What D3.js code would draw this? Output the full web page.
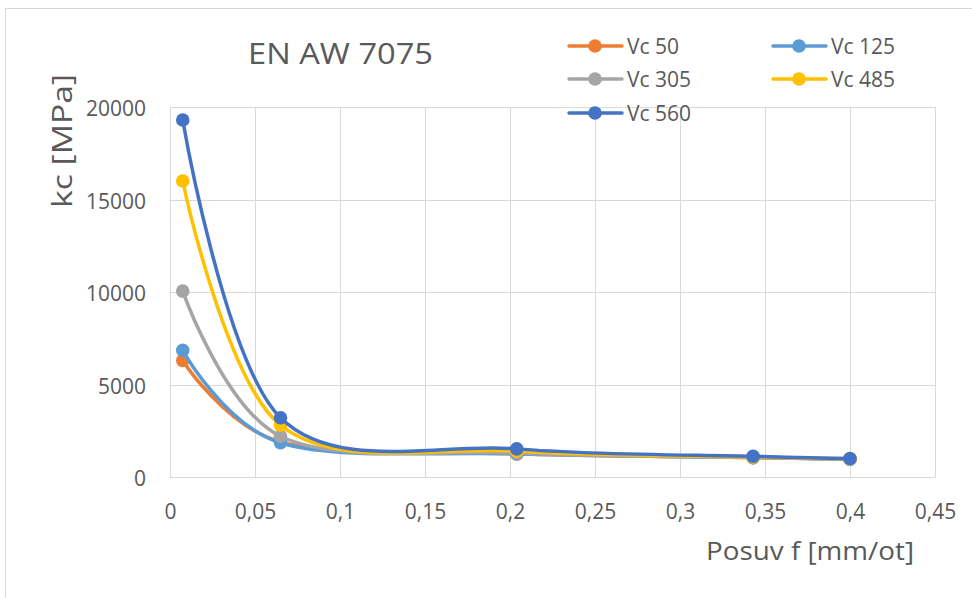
<!DOCTYPE html>
<html><head><meta charset="utf-8">
<script src="https://cdn.jsdelivr.net/npm/d3@7"></script>
<style>
html,body{margin:0;padding:0;background:#fff;}
svg{display:block;font-family:"Open Sans","Noto Sans",sans-serif;}
</style></head>
<body>
<svg id="c" width="972" height="598"></svg>
<script>
const feed = [0.0075, 0.065, 0.204, 0.343, 0.4];
const seriesNames = ["Vc 50", "Vc 125", "Vc 305", "Vc 485", "Vc 560"];
const vc50  = [6300, 1900, 1250, 1050, 960];
const vc125 = [6850, 1850, 1250, 1050, 960];
const vc305 = [10050, 2200, 1300, 1060, 970];
const vc485 = [16000, 2800, 1400, 1080, 990];
const vc560 = [19300, 3200, 1520, 1120, 1000];
const colors = ["#ED7D31", "#5B9BD5", "#A5A5A5", "#FFC000", "#4472C4"];
const xTicks = [0, 0.05, 0.1, 0.15, 0.2, 0.25, 0.3, 0.35, 0.4, 0.45];
const yTicks = [0, 5000, 10000, 15000, 20000];
const title = "EN AW 7075";
const xTitle = "Posuv f [mm/ot]";
const yTitle = "kc [MPa]";

const allSeries = [vc50, vc125, vc305, vc485, vc560];
const svg = d3.select("#c");
const txt = "#595959", grid = "#d9d9d9";

// chart border
svg.append("rect").attr("x", 5.5).attr("y", 8.5).attr("width", 1000).attr("height", 700)
  .attr("fill", "none").attr("stroke", grid).attr("stroke-width", 1);

const x = d3.scaleLinear().domain([0, 0.45]).range([170, 935]);
const y = d3.scaleLinear().domain([0, 20000]).range([477, 107]);

const fmt = d => String(d).replace(".", ",");

// gridlines
svg.append("g").selectAll("line").data(yTicks).join("line")
  .attr("x1", x(0)).attr("x2", x(0.45))
  .attr("y1", d => Math.round(y(d)) + 0.5).attr("y2", d => Math.round(y(d)) + 0.5)
  .attr("stroke", grid).attr("stroke-width", 1);
svg.append("g").selectAll("line").data(xTicks).join("line")
  .attr("y1", y(0)).attr("y2", y(20000))
  .attr("x1", d => Math.round(x(d)) + 0.5).attr("x2", d => Math.round(x(d)) + 0.5)
  .attr("stroke", grid).attr("stroke-width", 1);

// axes (labels only, via d3 axes)
const ax = svg.append("g").attr("transform", `translate(0,${y(0)})`)
  .call(d3.axisBottom(x).tickValues(xTicks).tickFormat(fmt).tickSize(0).tickPadding(27));
ax.select(".domain").attr("stroke", grid);
ax.selectAll("text").attr("fill", txt).style("font-size", "21px").style("font-family", "'Open Sans'");

const ay = svg.append("g").attr("transform", `translate(${x(0)},0)`)
  .call(d3.axisLeft(y).tickValues(yTicks).tickFormat(d => String(d)).tickSize(0).tickPadding(24));
ay.select(".domain").attr("stroke", grid);
ay.selectAll("text").attr("fill", txt).attr("dy", "0.42em").style("font-size", "21px").style("font-family", "'Open Sans'");

// lines
const line = d3.line().x(d => x(d[0])).y(d => y(d[1])).curve(d3.curveCatmullRom.alpha(0));
allSeries.forEach((s, i) => {
  const pts = feed.map((f, j) => [f, s[j]]);
  svg.append("path").datum(pts).attr("d", line)
    .attr("fill", "none").attr("stroke", colors[i]).attr("stroke-width", 3.5)
    .attr("stroke-linecap", "round").attr("stroke-linejoin", "round");
  svg.append("g").selectAll("circle").data(pts).join("circle")
    .attr("cx", d => x(d[0])).attr("cy", d => y(d[1])).attr("r", 6.8)
    .attr("fill", colors[i]);
});

// title
svg.append("text").attr("x", 248).attr("y", 64)
  .attr("textLength", 185).attr("lengthAdjust", "spacingAndGlyphs")
  .attr("fill", txt).style("font-size", "29px").text(title);
// axis titles
svg.append("text").attr("x", 706).attr("y", 560)
  .attr("textLength", 208).attr("lengthAdjust", "spacingAndGlyphs")
  .attr("fill", txt).style("font-size", "25px").text(xTitle);
svg.append("text").attr("transform", "translate(72,208) rotate(-90)")
  .attr("textLength", 134).attr("lengthAdjust", "spacingAndGlyphs")
  .attr("fill", txt).style("font-size", "27px").text(yTitle);

// legend
const legPos = [[569, 46], [773, 46], [569, 79], [773, 79], [569, 113]];
seriesNames.forEach((n, i) => {
  const [lx, ly] = legPos[i];
  const g = svg.append("g");
  g.append("line").attr("x1", lx).attr("x2", lx + 53).attr("y1", ly).attr("y2", ly)
    .attr("stroke", colors[i]).attr("stroke-width", 3.5).attr("stroke-linecap", "round");
  g.append("circle").attr("cx", lx + 26).attr("cy", ly).attr("r", 6.8).attr("fill", colors[i]);
  g.append("text").attr("x", lx + 58).attr("y", ly).attr("dy", "0.36em")
    .attr("fill", txt).style("font-size", "21px").text(n);
});
</script>
</body></html>
